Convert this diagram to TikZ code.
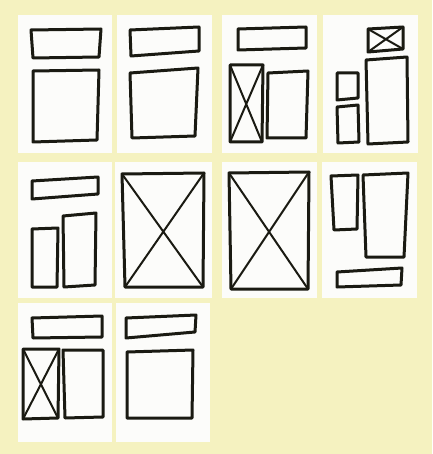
\documentclass[tikz,border=0pt]{standalone}
\usepackage{tikz}
\usepackage{xcolor}
\definecolor{padyellow}{RGB}{245, 242, 192}
\definecolor{cardwhite}{RGB}{252, 252, 250}
\definecolor{inkblack}{RGB}{26, 26, 18}

% one hand-drawn box: four corners
\newcommand{\sketchbox}[4]{\draw[sketch] #1 -- #2 -- #3 -- #4 -- cycle;}
% the same box with a cross in it
\newcommand{\sketchcross}[4]{%
  \draw[sketch] #1 -- #2 -- #3 -- #4 -- cycle;
  \draw[cross] #1 -- #3 #2 -- #4;}

\begin{document}
\begin{tikzpicture}[x=1pt, y=-1pt,
    sketch/.style={inkblack, line width=3pt, line join=round, line cap=round},
    cross/.style={inkblack, line width=2pt, line cap=round}]
    \fill[padyellow] (0,0) rectangle (432,454);
    \useasboundingbox (0,0) rectangle (432,454);
    % cards
    \foreach \xa/\ya/\xb/\yb in {18/15/112/153, 117/15/212/153, 222/15/317/153, 323/15/418/153,
      18/162/112/298, 115/162/212/298, 222/162/317/298, 322/162/417/298,
      18/303/112/442, 116/303/210/442}
      \fill[cardwhite] (\xa,\ya) rectangle (\xb,\yb);

    % row 1
    \sketchbox{(31,30)}{(101,29)}{(99,57)}{(33,58)}
    \sketchbox{(33,71)}{(99,70)}{(97,140)}{(33,142)}
    \sketchbox{(130,30)}{(199,27)}{(199,51)}{(131,56)}
    \sketchbox{(130,73)}{(198,68)}{(195,136)}{(132,138)}
    \sketchbox{(238,29)}{(306,27)}{(306,48)}{(238,50)}
    \sketchcross{(230,65)}{(263,65)}{(262,142)}{(230,142)}
    \sketchbox{(268,73)}{(308,71)}{(306,138)}{(267,138)}
    \sketchcross{(368,29)}{(403,27)}{(403,49)}{(368,52)}
    \sketchbox{(366,60)}{(407,57)}{(408,142)}{(368,144)}
    \sketchbox{(337,73)}{(358,73)}{(358,98)}{(337,100)}
    \sketchbox{(337,107)}{(358,105)}{(359,142)}{(338,143)}

    % row 2
    \sketchbox{(32,181)}{(98,177)}{(98,194)}{(32,199)}
    \sketchbox{(32,229)}{(58,228)}{(57,287)}{(32,287)}
    \sketchbox{(63,216)}{(96,213)}{(95,285)}{(64,287)}
    \sketchcross{(122,174)}{(204,173)}{(203,287)}{(125,287)}
    \sketchcross{(229,173)}{(309,172)}{(308,289)}{(231,289)}
    \sketchbox{(331,176)}{(358,175)}{(357,229)}{(334,230)}
    \sketchbox{(363,175)}{(408,173)}{(404,257)}{(366,257)}
    \sketchbox{(337,272)}{(402,268)}{(401,285)}{(337,287)}

    % row 3
    \sketchbox{(32,318)}{(102,316)}{(102,337)}{(33,338)}
    \sketchcross{(23,349)}{(59,349)}{(58,418)}{(23,419)}
    \sketchbox{(63,350)}{(103,350)}{(103,417)}{(65,418)}
    \sketchbox{(126,318)}{(196,315)}{(195,332)}{(126,338)}
    \sketchbox{(127,352)}{(193,350)}{(192,418)}{(127,418)}
\end{tikzpicture}
\end{document}
